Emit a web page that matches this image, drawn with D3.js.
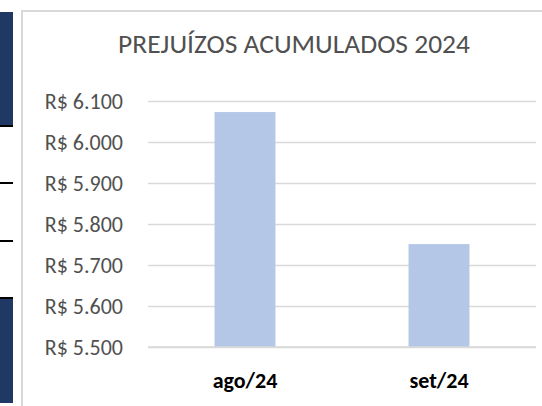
<!DOCTYPE html>
<html lang="pt">
<head>
<meta charset="utf-8">
<title>Prejuízos acumulados 2024</title>
<script src="https://d3js.org/d3.v7.min.js"></script>
<style>
  body { margin: 0; background: #fff; }
  svg { display: block; }
  text { font-family: Carlito, "Liberation Sans Narrow", Lato, sans-serif; }
</style>
</head>
<body>
<script>
// data
var categories = ["ago/24", "set/24"];
var values = [6073, 5751];
var yTicks = [5500, 5600, 5700, 5800, 5900, 6000, 6100];
var title = "PREJUÍZOS ACUMULADOS 2024";

var W = 542, H = 406;
var plot = {left: 148, right: 536, top: 101, bottom: 347};

var svg = d3.select("body").append("svg")
  .attr("width", W)
  .attr("height", H);

// slide pieces at the left edge
svg.append("rect").attr("x", 0).attr("y", 12).attr("width", 13).attr("height", 113).attr("fill", "#1f3864");
svg.append("rect").attr("x", 0).attr("y", 299).attr("width", 13).attr("height", 104).attr("fill", "#1f3864");
[126, 183, 241, 298].forEach(function(y) {
  svg.append("line").attr("x1", 0).attr("x2", 13).attr("y1", y).attr("y2", y)
    .attr("stroke", "#000").attr("stroke-width", 2);
});

// chart frame
svg.append("rect")
  .attr("x", 22).attr("y", 11)
  .attr("width", 540).attr("height", 420)
  .attr("fill", "#fff")
  .attr("stroke", "#d9d9d9")
  .attr("stroke-width", 2);

var x = d3.scaleBand()
  .domain(categories)
  .range([plot.left, plot.right])
  .paddingInner(0.686)
  .paddingOuter(0.343);

var y = d3.scaleLinear()
  .domain([d3.min(yTicks), d3.max(yTicks)])
  .range([plot.bottom, plot.top]);

// gridlines
svg.append("g")
  .attr("transform", "translate(" + plot.left + ",0)")
  .call(d3.axisLeft(y).tickValues(yTicks).tickSize(-(plot.right - plot.left)).tickFormat(""))
  .call(function(g) {
    g.select(".domain").remove();
    g.selectAll("line").attr("stroke", "#d9d9d9").attr("stroke-width", 1.3);
  });

// y labels
var fmt = function(d) { return "R$ " + d3.format(",.3f")(d / 1000).replace(",", ""); };
svg.append("g")
  .selectAll("text")
  .data(yTicks)
  .enter().append("text")
  .attr("x", 123)
  .attr("y", function(d) { return y(d); })
  .attr("dy", "0.35em")
  .attr("text-anchor", "end")
  .attr("fill", "#505050")
  .style("font-size", "22px")
  .text(fmt);

// bars
svg.selectAll(".bar")
  .data(values)
  .enter().append("rect")
  .attr("class", "bar")
  .attr("x", function(d, i) { return x(categories[i]); })
  .attr("width", x.bandwidth())
  .attr("y", function(d) { return y(d); })
  .attr("height", function(d) { return plot.bottom - y(d); })
  .attr("fill", "#b4c7e7");

// x axis line
svg.append("line")
  .attr("x1", plot.left).attr("x2", plot.right)
  .attr("y1", plot.bottom).attr("y2", plot.bottom)
  .attr("stroke", "#d9d9d9").attr("stroke-width", 1.5);

// x labels
svg.append("g")
  .selectAll("text")
  .data(categories)
  .enter().append("text")
  .attr("x", function(d) { return x(d) + x.bandwidth() / 2; })
  .attr("y", 388)
  .attr("text-anchor", "middle")
  .attr("fill", "#000")
  .style("font-size", "22px")
  .style("font-weight", "bold")
  .text(function(d) { return d; });

// title
svg.append("text")
  .attr("x", 294)
  .attr("y", 53)
  .attr("text-anchor", "middle")
  .attr("fill", "#505050")
  .style("font-size", "27.5px")
  .text(title);
</script>
</body>
</html>
